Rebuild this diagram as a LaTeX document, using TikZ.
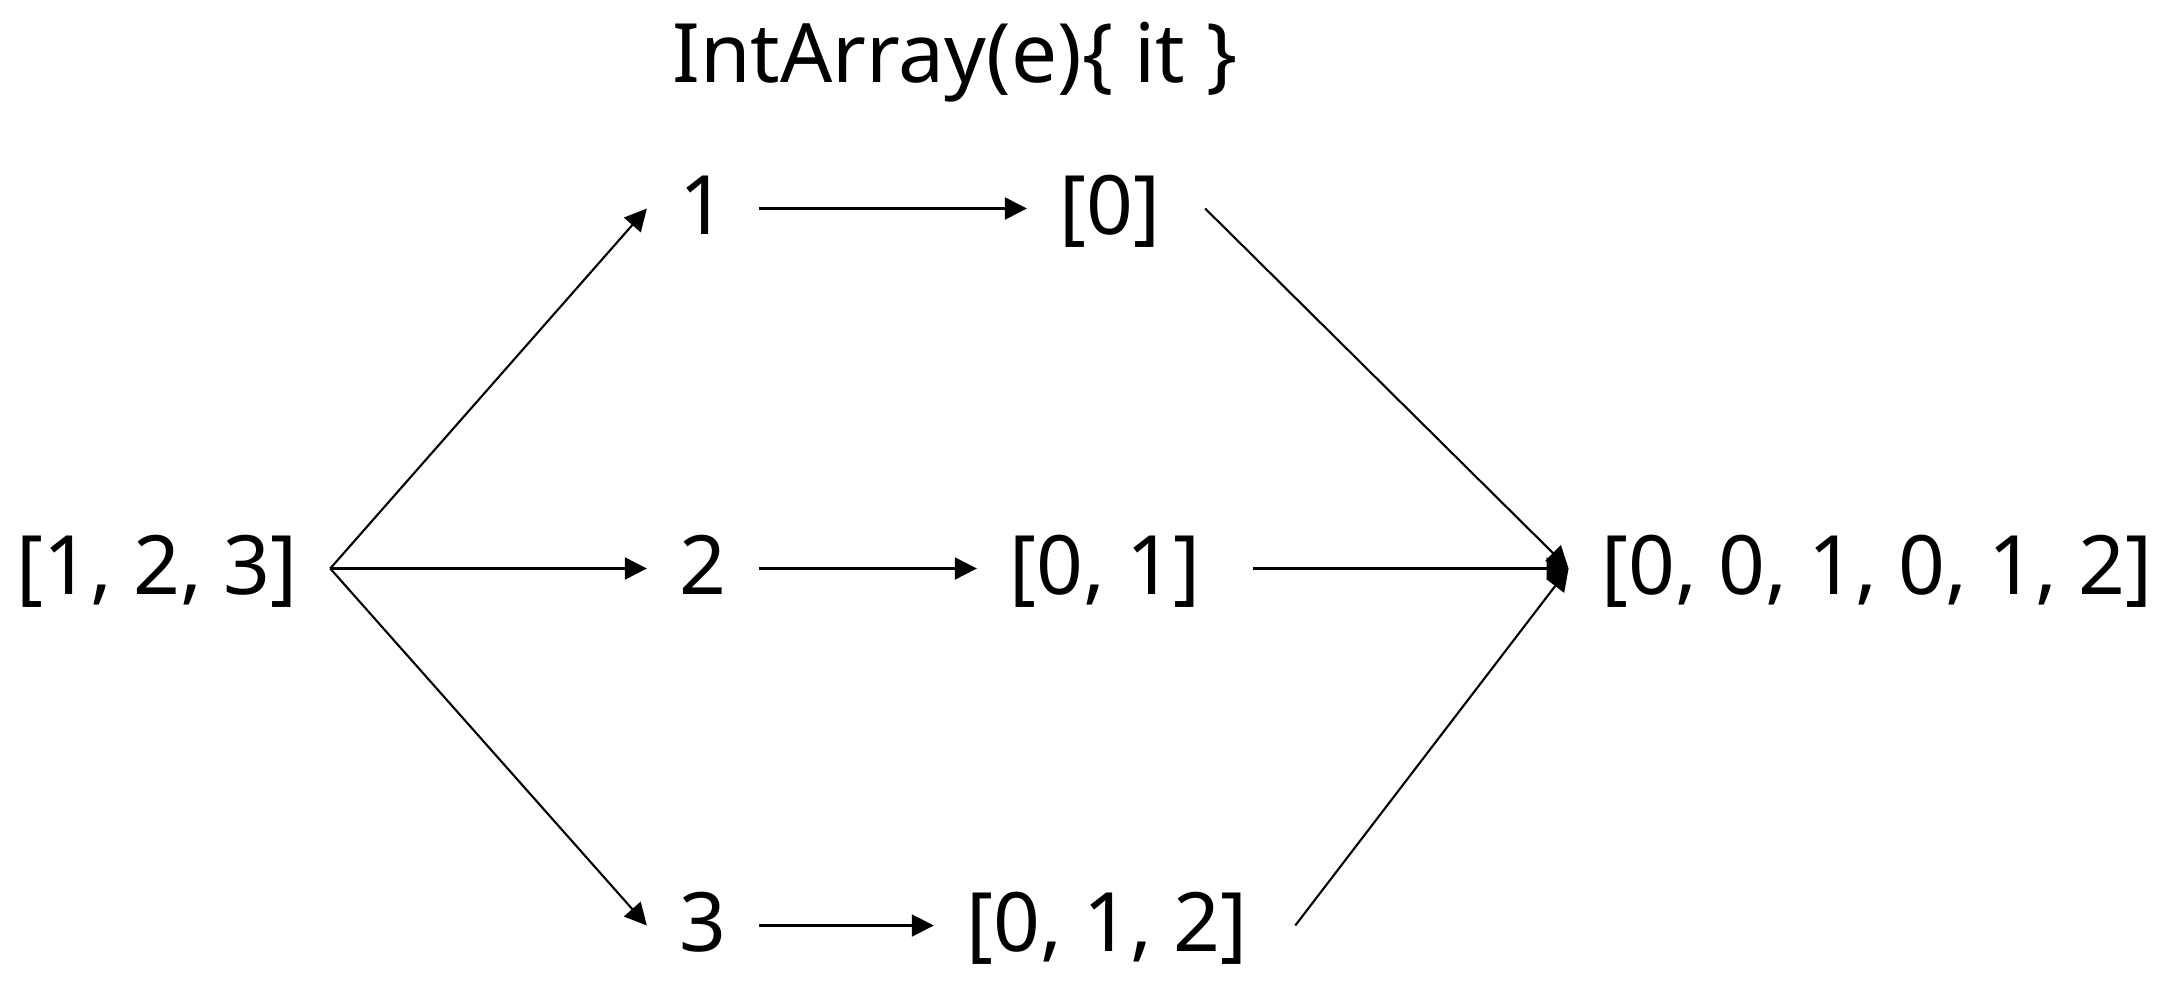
\documentclass[tikz,border=0pt]{standalone}
\usepackage{fontspec}
\setmainfont{Noto Sans}
\usetikzlibrary{arrows.meta, positioning}
\tikzstyle{arrow}=[-{Triangle[length=0.22cm, width=0.22cm]}, line width=0.6pt, color=black]

\begin{document}
\begin{tikzpicture}[x=0.01cm, y=-0.01cm,
  val/.style={anchor=base, inner ysep=0pt, inner xsep=0.32cm,
              text height=0.68cm, text depth=0.17cm,
              font=\fontsize{23.3}{28}\selectfont}
]
\useasboundingbox (0,0) rectangle (2180,1002);

% Title
\node[val] (title) at (955,82) {IntArray(e)\{ it \}};

% Source list
\node[val] (src) at (157,594) {[1, 2, 3]};

% Elements
\node[val] (n1) at (703,234) {1};
\node[val] (n2) at (703,594) {2};
\node[val] (n3) at (703,951) {3};

% Mapped arrays
\node[val] (p1) at (1110,234) {[0]};
\node[val] (p2) at (1105,594) {[0, 1]};
\node[val] (p3) at (1107,951) {[0, 1, 2]};

% Flattened result
\node[val] (res) at (1877,594) {[0, 0, 1, 0, 1, 2]};

\draw[arrow] (src.east) -- (n1.west);
\draw[arrow] (src.east) -- (n2.west);
\draw[arrow] (src.east) -- (n3.west);
\draw[arrow] (n1.east) -- (p1.west);
\draw[arrow] (n2.east) -- (p2.west);
\draw[arrow] (n3.east) -- (p3.west);
\draw[arrow] ([xshift=0.12cm]p1.east) -- (res.west);
\draw[arrow] ([xshift=0.2cm]p2.east) -- (res.west);
\draw[arrow] ([xshift=0.15cm]p3.east) -- (res.west);
\end{tikzpicture}
\end{document}
